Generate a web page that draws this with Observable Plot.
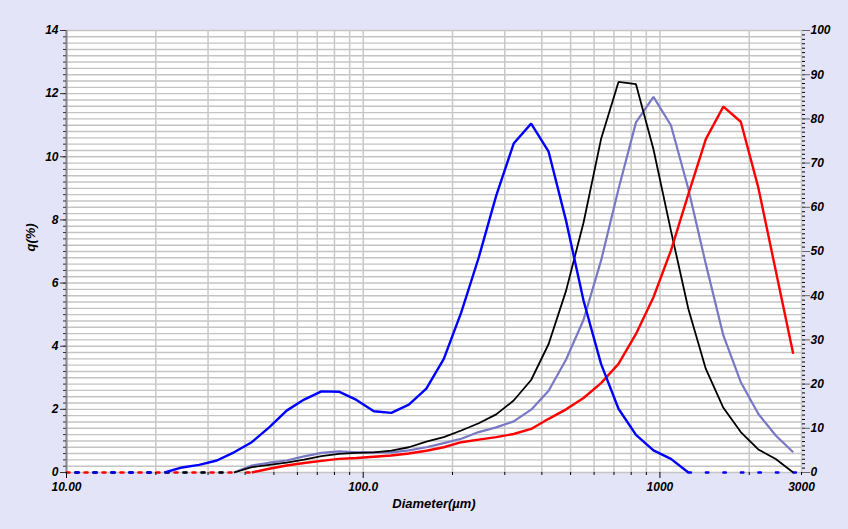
<!DOCTYPE html>
<html>
<head>
<meta charset="utf-8">
<script src="https://cdn.jsdelivr.net/npm/d3@7"></script>
<script src="https://cdn.jsdelivr.net/npm/@observablehq/plot@0.6"></script>
<style>
  html, body { margin: 0; padding: 0; background: #e4e4f8; overflow: hidden; }
  #chart svg { display: block; }
</style>
</head>
<body>
<div id="chart"></div>
<script>
// Diameter bins (µm)
const diam = [21.4, 24.5, 28.0, 32.1, 36.7, 42.1, 48.2, 55.2, 63.2, 72.3, 82.8, 94.9, 108.6, 124.4, 142.5,
  163.2, 186.9, 214.0, 245.1, 280.7, 321.4, 368.1, 421.6, 482.8, 552.9, 633.2, 725.1, 830.4, 951.0,
  1089, 1247, 1428, 1636, 1873, 2145, 2457, 2813];

// q(%) series (null = not drawn as solid line)
const qBlue = [0, 0.16, 0.24, 0.38, 0.64, 0.96, 1.43, 1.96, 2.31, 2.57, 2.56, 2.30, 1.94, 1.89, 2.15,
  2.66, 3.60, 5.07, 6.81, 8.77, 10.42, 11.05, 10.16, 7.97, 5.44, 3.44, 2.02, 1.19, 0.70,
  0.43, 0, null, null, null, null, null, null];
const qBlack = [null, null, null, null, 0, 0.17, 0.24, 0.31, 0.41, 0.52, 0.59, 0.62, 0.64, 0.69, 0.80,
  0.98, 1.12, 1.33, 1.56, 1.84, 2.28, 2.93, 4.07, 5.76, 7.92, 10.56, 12.37, 12.30, 10.24,
  7.66, 5.18, 3.28, 2.05, 1.28, 0.73, 0.43, 0];
const qLavender = [null, null, null, null, 0, 0.22, 0.31, 0.38, 0.51, 0.62, 0.67, 0.64, 0.64, 0.64, 0.70,
  0.80, 0.93, 1.07, 1.28, 1.43, 1.62, 1.99, 2.59, 3.58, 4.84, 6.71, 8.98, 11.09, 11.90,
  11.00, 8.98, 6.60, 4.34, 2.86, 1.86, 1.17, 0.64];
const qRed = [null, null, null, null, null, 0, 0.12, 0.22, 0.30, 0.37, 0.43, 0.46, 0.50, 0.54, 0.60,
  0.69, 0.80, 0.96, 1.04, 1.12, 1.22, 1.38, 1.70, 2.00, 2.36, 2.83, 3.44, 4.39, 5.55,
  7.03, 8.82, 10.56, 11.59, 11.11, 9.03, 6.39, 3.76];

// Axes
const xDomain = [10, 3000];
const xMinorTicks = [20, 30, 40, 50, 60, 70, 80, 90, 200, 300, 400, 500, 600, 700, 800, 900, 2000, 3000];
const xMajorTicks = [10, 100, 1000];
const xLabelTicks = [10, 100, 1000, 3000];
const xLabels = ["10.00", "100.0", "1000", "3000"];
const yMax = 14;
const yLabelTicks = [0, 2, 4, 6, 8, 10, 12, 14];
const yMinorStep = 0.2;
const rightMax = 100;
const rightLabelTicks = [0, 10, 20, 30, 40, 50, 60, 70, 80, 90, 100];
const rightMinorStep = 1;

const series = [
  {name: "lavender", values: qLavender, color: "#7878c4", width: 2.2, offset: 9},
  {name: "black", values: qBlack, color: "#000000", width: 1.8, offset: 9},
  {name: "red", values: qRed, color: "#ff0000", width: 2.4, offset: 0},
  {name: "blue", values: qBlue, color: "#0000ff", width: 2.4, offset: 9}
];

const toRight = v => v * yMax / rightMax;
const yMinor = d3.range(0, Math.round(yMax / yMinorStep) + 1).map(i => i * yMinorStep);
const rightMinor = d3.range(0, rightMax / rightMinorStep + 1).map(i => toRight(i * rightMinorStep));

const marks = [
  Plot.frame({fill: "white", stroke: null}),
  Plot.gridY(yMinor, {stroke: "#c4c4c4", strokeOpacity: 1, strokeWidth: 1.4}),
  Plot.gridX(xMinorTicks.concat(xMajorTicks), {stroke: "#c8c8c8", strokeOpacity: 1, strokeWidth: 1.5}),
  Plot.ruleX([xDomain[0]], {stroke: "#8a8a8a", strokeWidth: 2})
];

for (const s of series) {
  const pts = diam.map((d, i) => ({x: d, y: s.values[i]})).filter(p => p.y != null);
  const first = s.values.findIndex(v => v != null);
  let last = -1;
  s.values.forEach((v, i) => { if (v != null) last = i; });
  // dotted zero segments
  marks.push(Plot.line([{x: xDomain[0], y: 0}, {x: diam[first], y: 0}], {
    x: "x", y: "y", stroke: s.color, strokeWidth: 2.5, strokeDasharray: "3,15", strokeDashoffset: s.offset
  }));
  if (last < diam.length - 1) {
    marks.push(Plot.line([{x: diam[last], y: 0}, {x: xDomain[1], y: 0}], {
      x: "x", y: "y", stroke: s.color, strokeWidth: 2.5, strokeDasharray: "2.5,15"
    }));
  }
  s.pts = pts;
}
for (const s of series) {
  marks.push(Plot.line(s.pts, {x: "x", y: "y", stroke: s.color, strokeWidth: s.width, strokeLinejoin: "miter", strokeLinecap: "butt"}));
}

marks.push(
  // left axis
  Plot.axisY({anchor: "left", ticks: yMinor, tickSize: 3, tickFormat: () => "", label: null, stroke: "#333"}),
  Plot.axisY({anchor: "left", ticks: yLabelTicks, tickSize: 6, tickPadding: 2, label: null, stroke: "#333"}),
  // right axis
  Plot.axisY({anchor: "right", ticks: rightMinor, tickSize: 3, tickFormat: () => "", label: null, stroke: "#000"}),
  Plot.axisY({anchor: "right", ticks: rightLabelTicks.map(toRight), tickSize: 8, tickPadding: 1,
    tickFormat: d => String(Math.round(d * rightMax / yMax)), label: null, stroke: "#666"}),
  // bottom axis
  Plot.axisX({ticks: xMinorTicks, tickSize: 3, tickFormat: () => "", label: null, stroke: "#000"}),
  Plot.axisX({ticks: xMajorTicks, tickSize: 6, tickFormat: () => "", label: null, stroke: "#000"}),
  Plot.axisX({ticks: xLabelTicks, tickSize: 0, tickPadding: 10,
    tickFormat: d => xLabels[xLabelTicks.indexOf(d)], label: null}),
  Plot.text(["q(%)"], {frameAnchor: "left", dx: -36, rotate: -90, text: d => d, fontSize: 13}),
  Plot.text(["Diameter(µm)"], {frameAnchor: "bottom", dy: 35, text: d => d, fontSize: 13})
);

const chart = Plot.plot({
  width: 848,
  height: 529,
  marginLeft: 66,
  marginRight: 47,
  marginTop: 30,
  marginBottom: 57,
  x: {type: "log", domain: xDomain},
  y: {domain: [0, yMax]},
  style: {
    background: "transparent",
    fontFamily: "'Liberation Sans', Arial, sans-serif",
    fontWeight: "bold",
    fontStyle: "italic",
    fontSize: "12px",
    color: "#000"
  },
  marks
});
document.getElementById("chart").appendChild(chart);
</script>
</body>
</html>
